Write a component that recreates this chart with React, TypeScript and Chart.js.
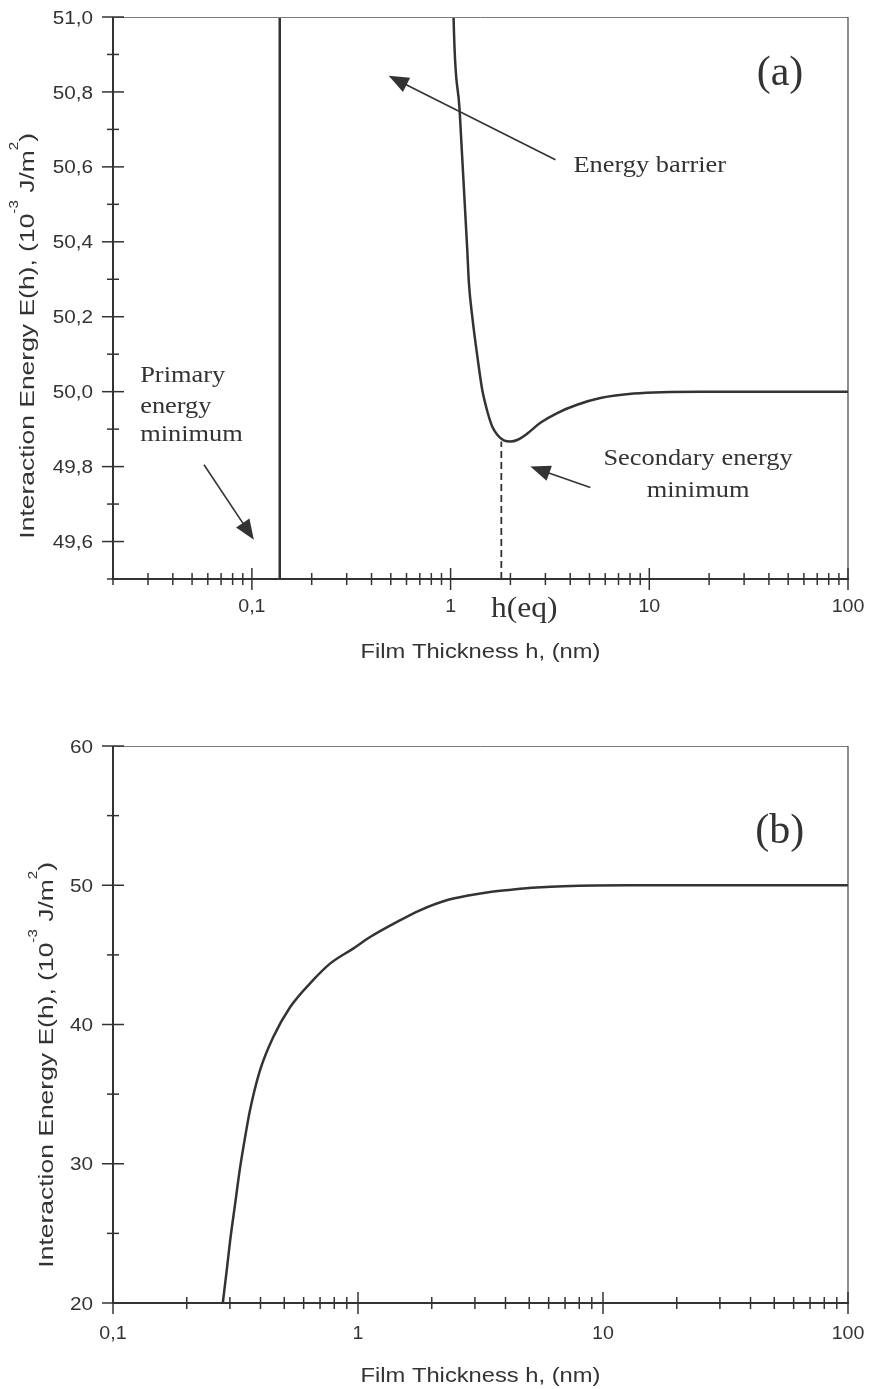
import React, { useEffect, useRef } from "react";
import { Chart, registerables } from "chart.js";

Chart.register(...registerables);

const SANS = '"Liberation Sans", Arial, sans-serif';
const SERIF = '"Liberation Serif", "Times New Roman", serif';
const INK = "#333333";

// ---------------- Panel (a) data ----------------
const aPrimaryH = [0.138, 0.1381];
const aPrimaryE = [49.3, 51.3];
const aBarrierH = [1.025, 1.035, 1.11, 1.213, 1.236, 1.285, 1.371, 1.443, 1.539, 1.62, 1.717, 1.853, 2.003, 2.163, 2.43, 2.83, 3.44, 4.33, 5.67, 8.34, 18.0, 40, 100];
const aBarrierE = [51.15, 51.0, 50.752, 50.379, 50.291, 50.201, 50.085, 50.005, 49.943, 49.907, 49.885, 49.87, 49.867, 49.871, 49.888, 49.917, 49.943, 49.965, 49.983, 49.995, 50.0, 50.0, 50.0];
const aEqH = [1.8, 1.8];
const aEqE = [49.5, 49.867];
const aXTickValues = [0.1, 1, 10, 100];
const aXTickLabels = ["0,1", "1", "10", "100"];
const aYTickValues = [49.6, 49.8, 50.0, 50.2, 50.4, 50.6, 50.8, 51.0];
const aYTickLabels = ["49,6", "49,8", "50,0", "50,2", "50,4", "50,6", "50,8", "51,0"];
const aYMinorValues = [49.5, 49.7, 49.9, 50.1, 50.3, 50.5, 50.7, 50.9];

// ---------------- Panel (b) data ----------------
const bH = [0.2806, 0.291, 0.3006, 0.315, 0.33, 0.346, 0.362, 0.398, 0.451, 0.528, 0.657, 0.769, 0.955, 1.12, 1.44, 1.79, 2.3, 2.86, 3.46, 4.3, 5.36, 6.9, 12.8, 30, 100];
const bE = [20, 22.3, 24.46, 27.1, 29.7, 31.9, 33.8, 36.7, 39.1, 41.24, 43.2, 44.37, 45.45, 46.28, 47.36, 48.2, 48.92, 49.28, 49.52, 49.69, 49.83, 49.93, 50.0, 50.0, 50.0];
const bXTickValues = [0.1, 1, 10, 100];
const bXTickLabels = ["0,1", "1", "10", "100"];
const bYTickValues = [20, 30, 40, 50, 60];
const bYTickLabels = ["20", "30", "40", "50", "60"];
const bYMinorValues = [25, 35, 45, 55];

const X_TITLE = "Film Thickness h, (nm)";
const Y_TITLE_SEGMENTS: { t: string; sup: boolean }[] = [
  { t: "Interaction Energy E(h), (10", sup: false },
  { t: "-3", sup: true },
  { t: " J/m", sup: false },
  { t: "2", sup: true },
  { t: ")", sup: false },
];

function toPoints(xs: number[], ys: number[]) {
  return xs.map((x, i) => ({ x, y: ys[i] }));
}

function text(ctx: CanvasRenderingContext2D, s: string, x: number, y: number, font: string, align: CanvasTextAlign, sx = 1) {
  ctx.save();
  ctx.translate(x, y);
  ctx.scale(sx, 1);
  ctx.font = font;
  ctx.textAlign = align;
  ctx.textBaseline = "alphabetic";
  ctx.fillStyle = INK;
  ctx.fillText(s, 0, 0);
  ctx.restore();
}

function seg(ctx: CanvasRenderingContext2D, x1: number, y1: number, x2: number, y2: number) {
  ctx.beginPath();
  ctx.moveTo(x1, y1);
  ctx.lineTo(x2, y2);
  ctx.stroke();
}

function arrow(ctx: CanvasRenderingContext2D, x1: number, y1: number, x2: number, y2: number) {
  const ang = Math.atan2(y2 - y1, x2 - x1);
  const L = 20, W = 8;
  const c = Math.cos(ang), s = Math.sin(ang);
  const bx = x2 - L * c, by = y2 - L * s;
  ctx.save();
  ctx.strokeStyle = INK;
  ctx.fillStyle = INK;
  ctx.lineWidth = 1.6;
  seg(ctx, x1, y1, bx + 2 * c, by + 2 * s);
  ctx.beginPath();
  ctx.moveTo(x2, y2);
  ctx.lineTo(bx - W * s, by + W * c);
  ctx.lineTo(bx + W * s, by - W * c);
  ctx.closePath();
  ctx.fill();
  ctx.restore();
}

// rotated axis title; its closing end sits at page y = topY
function yTitle(ctx: CanvasRenderingContext2D, baselineX: number, topY: number) {
  const main = `21px ${SANS}`;
  const sup = `12px ${SANS}`;
  const sx = 1.26;
  const widths = Y_TITLE_SEGMENTS.map((sg) => {
    ctx.font = sg.sup ? sup : main;
    return ctx.measureText(sg.t).width;
  });
  const total = widths.reduce((p, q) => p + q, 0);
  ctx.save();
  ctx.translate(baselineX, topY + total * sx);
  ctx.rotate(-Math.PI / 2);
  ctx.scale(sx, 1);
  ctx.fillStyle = INK;
  ctx.textBaseline = "alphabetic";
  ctx.textAlign = "left";
  let x = 0;
  Y_TITLE_SEGMENTS.forEach((sg, i) => {
    ctx.font = sg.sup ? sup : main;
    ctx.fillText(sg.t, x, sg.sup ? -16 : 0);
    x += widths[i];
  });
  ctx.restore();
}

type PanelSpec = {
  id: string;
  xMajor: number[];
  xLabels: string[];
  yMajor: number[];
  yLabels: string[];
  yMinor: number[];
  xLabelOffset: number;
  yTitleX: number;
  yTitleTop: number;
  annotate: (ctx: CanvasRenderingContext2D, xs: any, ys: any, area: any) => void;
};

function minorLogTicks(min: number, max: number) {
  const out: number[] = [];
  for (let e = Math.floor(Math.log10(min)); e <= Math.ceil(Math.log10(max)); e++) {
    for (let k = 2; k <= 9; k++) {
      const v = k * Math.pow(10, e);
      if (v >= min * 0.999 && v <= max * 1.001) out.push(v);
    }
  }
  return out;
}

function makePlugin(p: PanelSpec) {
  return {
    id: "axes-" + p.id,
    afterDraw(chart: any) {
      const ctx: CanvasRenderingContext2D = chart.ctx;
      const xs = chart.scales.x;
      const ys = chart.scales.y;
      const a = chart.chartArea;
      ctx.save();
      ctx.lineCap = "butt";
      // frame: top & right
      ctx.strokeStyle = "#7a7a7a";
      ctx.lineWidth = 1;
      seg(ctx, a.left, a.top + 0.5, a.right, a.top + 0.5);
      ctx.strokeStyle = "#444";
      ctx.lineWidth = 1.2;
      seg(ctx, a.right, a.top, a.right, a.bottom);
      // main axes
      ctx.strokeStyle = INK;
      ctx.lineWidth = 2;
      seg(ctx, a.left, a.top, a.left, a.bottom + 1);
      seg(ctx, a.left - 1, a.bottom, a.right + 1, a.bottom);
      // ticks (crossing the axis)
      ctx.lineWidth = 1.5;
      p.xMajor.forEach((v) => {
        const px = xs.getPixelForValue(v);
        seg(ctx, px, a.bottom - 11, px, a.bottom + 11);
      });
      minorLogTicks(xs.min, xs.max).forEach((v) => {
        const px = xs.getPixelForValue(v);
        seg(ctx, px, a.bottom - 6, px, a.bottom + 6);
      });
      p.yMajor.forEach((v) => {
        const py = ys.getPixelForValue(v);
        seg(ctx, a.left - 11, py, a.left + 11, py);
      });
      p.yMinor.forEach((v) => {
        const py = ys.getPixelForValue(v);
        seg(ctx, a.left - 6, py, a.left + 6, py);
      });
      // tick labels
      p.xMajor.forEach((v, i) => {
        const px = xs.getPixelForValue(v);
        text(ctx, p.xLabels[i], px, a.bottom + p.xLabelOffset, `18px ${SANS}`, "center", 1.09);
      });
      p.yMajor.forEach((v, i) => {
        const py = ys.getPixelForValue(v);
        text(ctx, p.yLabels[i], a.left - 20, py + 6.6, `18px ${SANS}`, "right", 1.15);
      });
      // titles
      text(ctx, X_TITLE, (a.left + a.right) / 2, a.bottom + 79, `21px ${SANS}`, "center", 1.13);
      yTitle(ctx, p.yTitleX, p.yTitleTop);
      // annotations
      p.annotate(ctx, xs, ys, a);
      ctx.restore();
    },
  };
}

const panelA: PanelSpec = {
  id: "a",
  xMajor: aXTickValues,
  xLabels: aXTickLabels,
  yMajor: aYTickValues,
  yLabels: aYTickLabels,
  yMinor: aYMinorValues,
  xLabelOffset: 33,
  yTitleX: 34,
  yTitleTop: 133,
  annotate(ctx, xs, ys, a) {
    const X = (v: number) => xs.getPixelForValue(v);
    const Y = (v: number) => ys.getPixelForValue(v);
    const serif = `24px ${SERIF}`;
    text(ctx, "(a)", X(45.5), Y(50.819), `42px ${SERIF}`, "center");
    text(ctx, "Energy barrier", X(4.15), Y(50.587), serif, "left", 1.1);
    arrow(ctx, X(3.37), Y(50.619), X(0.488), Y(50.843));
    text(ctx, "Primary", X(0.0274), Y(50.027), serif, "left", 1.1);
    text(ctx, "energy", X(0.0274), Y(49.944), serif, "left", 1.1);
    text(ctx, "minimum", X(0.0274), Y(49.867), serif, "left", 1.1);
    arrow(ctx, X(0.0574), Y(49.805), X(0.1023), Y(49.605));
    text(ctx, "Secondary energy", X(17.6), Y(49.805), serif, "center", 1.1);
    text(ctx, "minimum", X(17.6), Y(49.72), serif, "center", 1.1);
    arrow(ctx, X(5.05), Y(49.744), X(2.52), Y(49.8));
    text(ctx, "h(eq)", X(2.35), a.bottom + 38, `30px ${SERIF}`, "center", 1.05);
  },
};

const panelB: PanelSpec = {
  id: "b",
  xMajor: bXTickValues,
  xLabels: bXTickLabels,
  yMajor: bYTickValues,
  yLabels: bYTickLabels,
  yMinor: bYMinorValues,
  xLabelOffset: 36,
  yTitleX: 53,
  yTitleTop: 172,
  annotate(ctx, xs, ys) {
    text(ctx, "(b)", xs.getPixelForValue(52.7), ys.getPixelForValue(53.0), `42px ${SERIF}`, "center");
  },
};

function baseOptions(xMin: number, xMax: number, yMin: number, yMax: number, top: number, xAxisH: number): any {
  return {
    responsive: false,
    animation: false,
    events: [],
    layout: { padding: { left: 0, right: 21, top, bottom: 0 } },
    plugins: { legend: { display: false }, tooltip: { enabled: false } },
    elements: { point: { radius: 0 } },
    scales: {
      x: {
        type: "logarithmic",
        min: xMin,
        max: xMax,
        grid: { display: false },
        border: { display: false },
        ticks: { display: false },
        afterFit: (s: any) => {
          s.height = xAxisH;
        },
      },
      y: {
        type: "linear",
        min: yMin,
        max: yMax,
        grid: { display: false },
        border: { display: false },
        ticks: { display: false },
        afterFit: (s: any) => {
          s.width = 113;
        },
      },
    },
  };
}

export default function App() {
  const refA = useRef<HTMLCanvasElement>(null);
  const refB = useRef<HTMLCanvasElement>(null);

  useEffect(() => {
    const line = { borderColor: INK, borderWidth: 2.5, pointRadius: 0, fill: false, clip: 0 };
    const chartA = new Chart(refA.current!, {
      type: "line",
      data: {
        datasets: [
          { ...line, data: toPoints(aPrimaryH, aPrimaryE), tension: 0 },
          { ...line, data: toPoints(aBarrierH, aBarrierE), cubicInterpolationMode: "monotone" },
          { ...line, borderWidth: 1.8, borderDash: [7, 4], data: toPoints(aEqH, aEqE), tension: 0 },
        ] as any,
      },
      options: baseOptions(0.02, 100, 49.5, 51.0, 17, 690 - 579),
      plugins: [makePlugin(panelA)],
    });
    const chartB = new Chart(refB.current!, {
      type: "line",
      data: {
        datasets: [{ ...line, data: toPoints(bH, bE), cubicInterpolationMode: "monotone" }] as any,
      },
      options: baseOptions(0.1, 100, 20, 60, 56, 699 - 613),
      plugins: [makePlugin(panelB)],
    });
    return () => {
      chartA.destroy();
      chartB.destroy();
    };
  }, []);

  return (
    <div style={{ position: "absolute", left: 0, top: 0, width: 869, height: 1389, background: "#fff" }}>
      <canvas ref={refA} width={869} height={690} style={{ display: "block", width: 869, height: 690 }} />
      <canvas ref={refB} width={869} height={699} style={{ display: "block", width: 869, height: 699 }} />
    </div>
  );
}
